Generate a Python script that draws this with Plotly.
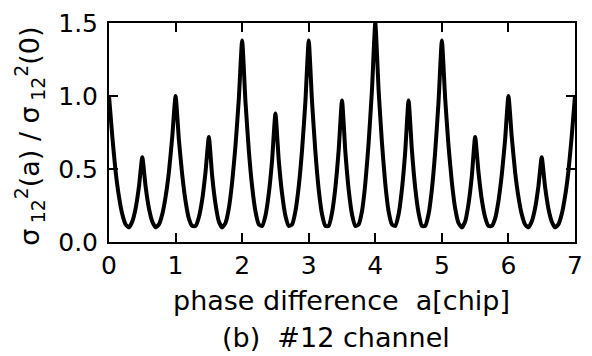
import plotly.graph_objects as go

# phase difference a [chip], sampled every 0.05 chip
x_vals = [
    0.00, 0.05, 0.10, 0.15, 0.20, 0.25, 0.30, 0.35, 0.40, 0.45,
    0.50, 0.55, 0.60, 0.65, 0.70, 0.75, 0.80, 0.85, 0.90, 0.95,
    1.00, 1.05, 1.10, 1.15, 1.20, 1.25, 1.30, 1.35, 1.40, 1.45,
    1.50, 1.55, 1.60, 1.65, 1.70, 1.75, 1.80, 1.85, 1.90, 1.95,
    2.00, 2.05, 2.10, 2.15, 2.20, 2.25, 2.30, 2.35, 2.40, 2.45,
    2.50, 2.55, 2.60, 2.65, 2.70, 2.75, 2.80, 2.85, 2.90, 2.95,
    3.00, 3.05, 3.10, 3.15, 3.20, 3.25, 3.30, 3.35, 3.40, 3.45,
    3.50, 3.55, 3.60, 3.65, 3.70, 3.75, 3.80, 3.85, 3.90, 3.95,
    4.00, 4.05, 4.10, 4.15, 4.20, 4.25, 4.30, 4.35, 4.40, 4.45,
    4.50, 4.55, 4.60, 4.65, 4.70, 4.75, 4.80, 4.85, 4.90, 4.95,
    5.00, 5.05, 5.10, 5.15, 5.20, 5.25, 5.30, 5.35, 5.40, 5.45,
    5.50, 5.55, 5.60, 5.65, 5.70, 5.75, 5.80, 5.85, 5.90, 5.95,
    6.00, 6.05, 6.10, 6.15, 6.20, 6.25, 6.30, 6.35, 6.40, 6.45,
    6.50, 6.55, 6.60, 6.65, 6.70, 6.75, 6.80, 6.85, 6.90, 6.95,
    7.00,
]

# normalized variance sigma_12^2(a) / sigma_12^2(0)
y_vals = [
    1.00, 0.72, 0.48, 0.31, 0.19, 0.12, 0.10, 0.14, 0.23, 0.38,
    0.58, 0.38, 0.23, 0.14, 0.10, 0.12, 0.19, 0.31, 0.48, 0.72,
    1.00, 0.70, 0.46, 0.28, 0.16, 0.11, 0.11, 0.17, 0.29, 0.48,
    0.72, 0.45, 0.26, 0.14, 0.10, 0.13, 0.23, 0.41, 0.66, 0.98,
    1.38, 0.96, 0.63, 0.38, 0.21, 0.12, 0.11, 0.18, 0.33, 0.56,
    0.88, 0.56, 0.33, 0.18, 0.11, 0.12, 0.21, 0.38, 0.63, 0.96,
    1.38, 0.96, 0.62, 0.36, 0.19, 0.11, 0.11, 0.20, 0.37, 0.63,
    0.97, 0.62, 0.36, 0.19, 0.11, 0.12, 0.21, 0.40, 0.68, 1.04,
    1.50, 1.04, 0.68, 0.40, 0.21, 0.12, 0.11, 0.19, 0.36, 0.62,
    0.97, 0.63, 0.37, 0.20, 0.11, 0.11, 0.19, 0.36, 0.62, 0.96,
    1.38, 0.98, 0.66, 0.41, 0.23, 0.13, 0.10, 0.14, 0.26, 0.45,
    0.72, 0.48, 0.29, 0.17, 0.11, 0.11, 0.16, 0.28, 0.46, 0.70,
    1.00, 0.72, 0.48, 0.31, 0.19, 0.12, 0.10, 0.14, 0.23, 0.38,
    0.58, 0.38, 0.23, 0.14, 0.10, 0.12, 0.19, 0.31, 0.48, 0.72,
    1.00,
]

x_ticks = [0, 1, 2, 3, 4, 5, 6, 7]
y_ticks = [0.0, 0.5, 1.0, 1.5]

FONT = "DejaVu Sans"
W, H = 592, 356
L, R, T, B = 109, 9, 22, 114
PW, PH = W - L - R, H - T - B

def px_to_paper_x(px):
    return (px - L) / PW

def px_to_paper_y(py):
    return (H - B - py) / PH

fig = go.Figure()
fig.add_trace(go.Scatter(
    x=x_vals, y=y_vals, mode="lines",
    line=dict(color="black", width=4, shape="spline", smoothing=0.5),
    showlegend=False, hoverinfo="skip",
))

axis_common = dict(
    showline=True, linecolor="black", linewidth=2, mirror="ticks",
    ticks="inside", ticklen=9, tickwidth=2, tickcolor="black",
    showgrid=False, zeroline=False,
    tickfont=dict(family=FONT, size=25, color="black"),
)

fig.update_xaxes(range=[0, 7], tickvals=x_ticks, ticktext=[str(v) for v in x_ticks], **axis_common)
fig.update_yaxes(range=[0, 1.5], tickvals=y_ticks, ticktext=[f"{v:.1f}" for v in y_ticks],
                 ticklabelstandoff=4, **axis_common)

fig.add_annotation(
    text="phase difference\u00a0\u00a0a[chip]",
    xref="paper", yref="paper", x=px_to_paper_x(345), y=px_to_paper_y(301),
    xanchor="center", yanchor="middle", showarrow=False,
    font=dict(family=FONT, size=27, color="black"),
)
fig.add_annotation(
    text="(b)\u00a0\u00a0#12 channel",
    xref="paper", yref="paper", x=px_to_paper_x(340), y=px_to_paper_y(338),
    xanchor="center", yanchor="middle", showarrow=False,
    font=dict(family=FONT, size=27, color="black"),
)
fig.add_annotation(
    text="σ\u2009<sub>12</sub><sup>2</sup>(a) / σ\u2009<sub>12</sub><sup>2</sup>(0)",
    xref="paper", yref="paper", x=px_to_paper_x(28), y=px_to_paper_y(136),
    xanchor="center", yanchor="middle", showarrow=False, textangle=-90,
    font=dict(family=FONT, size=27, color="black"),
)

fig.update_layout(
    width=W, height=H,
    margin=dict(l=L, r=R, t=T, b=B),
    paper_bgcolor="white", plot_bgcolor="white",
)

fig.write_html("out.html")
